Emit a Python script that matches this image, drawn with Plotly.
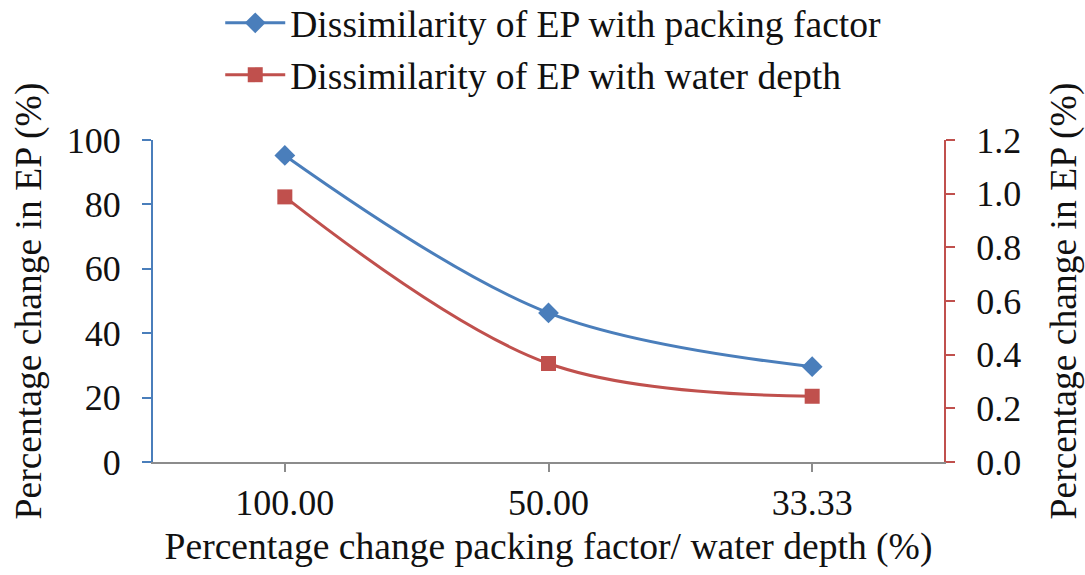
import plotly.graph_objects as go

# Relative change in packing factor / water depth (%)
categories = ["100.00", "50.00", "33.33"]

# Percentage change in EP for each parameter
ep_packing_factor = [95.2, 46.3, 29.6]      # left axis
ep_water_depth = [0.988, 0.367, 0.245]      # right axis

left_ticks = [0, 20, 40, 60, 80, 100]
right_ticks = [0.0, 0.2, 0.4, 0.6, 0.8, 1.0, 1.2]

BLUE = "#4A7EBB"
RED = "#C0504D"
GREY = "#8C8C8C"
FONT = "Liberation Serif, Times New Roman, serif"
TICK_SIZE = 36
TEXT_SIZE = 37.6

fig = go.Figure()

fig.add_trace(go.Scatter(
    x=categories, y=ep_packing_factor,
    name="Dissimilarity of EP with packing factor",
    mode="lines+markers",
    line=dict(color=BLUE, width=3, shape="spline", smoothing=1.0),
    marker=dict(symbol="diamond", size=16, color=BLUE),
    yaxis="y",
))

fig.add_trace(go.Scatter(
    x=categories, y=ep_water_depth,
    name="Dissimilarity of EP with water depth",
    mode="lines+markers",
    line=dict(color=RED, width=3, shape="spline", smoothing=1.0),
    marker=dict(symbol="square", size=15, color=RED),
    yaxis="y2",
))

fig.update_layout(
    width=1085, height=575,
    margin=dict(l=153, r=141, t=140, b=113, autoexpand=False),
    paper_bgcolor="white", plot_bgcolor="white",
    font=dict(family=FONT, size=TEXT_SIZE, color="#111111"),
    showlegend=True,
    legend=dict(
        x=0.085, xanchor="left",
        y=1.46, yanchor="top",
        font=dict(size=TEXT_SIZE, family=FONT, color="#111111"),
        bgcolor="rgba(0,0,0,0)",
        itemwidth=60,
        tracegroupgap=0,
    ),
    xaxis=dict(
        type="category",
        range=[-0.5, 2.5],
        showline=True, linecolor=GREY, linewidth=2,
        ticks="outside", ticklen=8, tickwidth=1.5, tickcolor=GREY,
        showgrid=False, zeroline=False,
        tickfont=dict(size=TICK_SIZE, family=FONT),
        title=dict(text="Percentage change packing factor/ water depth (%)",
                   font=dict(size=TEXT_SIZE, family=FONT), standoff=10),
        automargin=False,
    ),
    yaxis=dict(
        range=[0, 100],
        tickvals=left_ticks,
        showline=True, linecolor=BLUE, linewidth=2,
        ticks="outside", ticklen=9, tickwidth=2, tickcolor=BLUE,
        showgrid=False, zeroline=False,
        tickfont=dict(size=TICK_SIZE, family=FONT),
        ticklabelstandoff=14,
        title=dict(text="Percentage change in EP (%)",
                   font=dict(size=TEXT_SIZE, family=FONT), standoff=14),
        automargin=False,
    ),
    yaxis2=dict(
        range=[0, 1.2],
        tickvals=right_ticks,
        tickformat=".1f",
        overlaying="y", side="right",
        showline=True, linecolor=RED, linewidth=2,
        ticks="outside", ticklen=9, tickwidth=2, tickcolor=RED,
        showgrid=False, zeroline=False,
        tickfont=dict(size=TICK_SIZE, family=FONT),
        ticklabelstandoff=14,
        title=dict(text="Percentage change in EP (%)",
                   font=dict(size=TEXT_SIZE, family=FONT), standoff=30),
        automargin=False,
    ),
)

fig.write_html("out.html")
